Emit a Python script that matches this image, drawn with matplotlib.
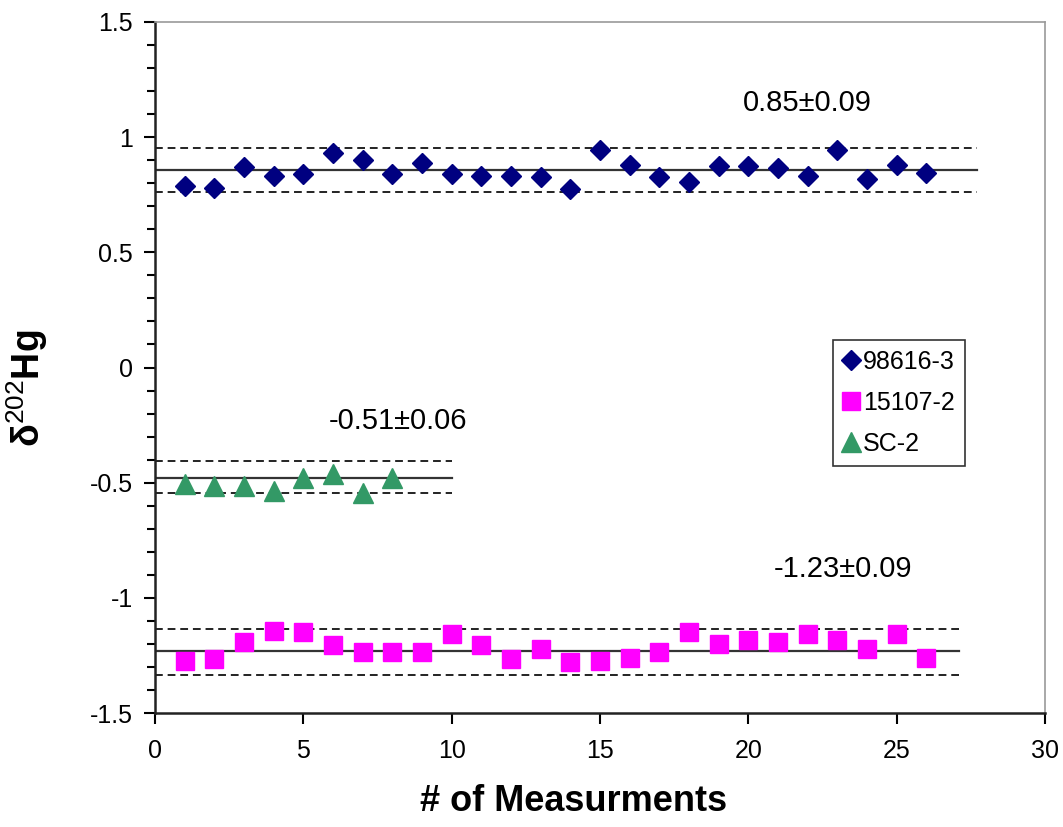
import matplotlib.pyplot as plt
from matplotlib.ticker import MultipleLocator

plt.rcParams['font.family'] = ['Liberation Sans', 'DejaVu Sans']
plt.rcParams['mathtext.fontset'] = 'custom'
plt.rcParams['mathtext.rm'] = 'Liberation Sans'
plt.rcParams['mathtext.bf'] = 'Liberation Sans:bold'

x_98616 = list(range(1, 27))
y_98616 = [0.79, 0.78, 0.87, 0.83, 0.84, 0.93, 0.90, 0.84, 0.89, 0.84,
           0.83, 0.83, 0.825, 0.775, 0.945, 0.88, 0.825, 0.805, 0.875, 0.875,
           0.865, 0.83, 0.945, 0.82, 0.88, 0.845]

x_15107 = list(range(1, 27))
y_15107 = [-1.275, -1.265, -1.19, -1.145, -1.15, -1.205, -1.235, -1.235, -1.235, -1.155,
           -1.205, -1.265, -1.22, -1.28, -1.275, -1.26, -1.235, -1.15, -1.2, -1.185,
           -1.19, -1.155, -1.185, -1.22, -1.155, -1.26]

x_sc2 = list(range(1, 9))
y_sc2 = [-0.505, -0.513, -0.513, -0.535, -0.478, -0.464, -0.546, -0.478]

# mean and +/- band levels (center, upper, lower) and how far they run
band_98616 = [0.858, 0.955, 0.763]
band_15107 = [-1.231, -1.133, -1.335]
band_sc2 = [-0.478, -0.407, -0.543]
xend_98616 = 27.7
xend_15107 = 27.1
xend_sc2 = 10.0

labels = ['98616-3', '15107-2', 'SC-2']
notes = ['0.85\u00b10.09', '-0.51\u00b10.06', '-1.23\u00b10.09']

fig = plt.figure(figsize=(10.63, 8.27), dpi=100)
ax = fig.add_axes([0.1458, 0.1378, 0.8372, 0.8356])

# band lines
for band, xend in [(band_98616, xend_98616), (band_sc2, xend_sc2), (band_15107, xend_15107)]:
    ax.plot([0, xend], [band[0], band[0]], color='#333333', lw=1.6, zorder=2)
    for lev in band[1:]:
        ax.plot([0, xend], [lev, lev], color='#222222', lw=1.4, ls=(0, (4, 2.5)), zorder=2)

ax.plot(x_98616, y_98616, ls='none', marker='D', ms=10, color='#000080',
        mec='#000080', label=labels[0], zorder=3)
ax.plot(x_15107, y_15107, ls='none', marker='s', ms=13, color='#FF00FF',
        mec='#FF00FF', label=labels[1], zorder=3)
ax.plot(x_sc2, y_sc2, ls='none', marker='^', ms=14, color='#339966',
        mec='#339966', label=labels[2], zorder=3)

ax.text(22.0, 1.148, notes[0], fontsize=21, ha='center', va='center')
ax.text(8.2, -0.232, notes[1], fontsize=21, ha='center', va='center')
ax.text(23.2, -0.875, notes[2], fontsize=21, ha='center', va='center')

ax.set_xlim(0, 30)
ax.set_ylim(-1.5, 1.5)
ax.xaxis.set_major_locator(MultipleLocator(5))
ax.yaxis.set_minor_locator(MultipleLocator(0.1))
ax.set_yticks([-1.5, -1, -0.5, 0, 0.5, 1, 1.5])
ax.set_yticklabels(['-1.5', '-1', '-0.5', '0', '0.5', '1', '1.5'])
ax.tick_params(axis='both', which='major', direction='out', length=8, width=1.5,
               labelsize=18, pad=8)
ax.tick_params(axis='y', which='minor', direction='out', length=6, width=1.5)
ax.tick_params(axis='x', pad=11)

for side in ['left', 'bottom']:
    ax.spines[side].set_color('#222222')
    ax.spines[side].set_linewidth(1.8)
for side in ['top', 'right']:
    ax.spines[side].set_color('#999999')
    ax.spines[side].set_linewidth(1.2)

ax.set_xlabel('# of Measurments', fontsize=26, fontweight='bold')
ax.xaxis.set_label_coords(0.47, -0.102)
ax.set_ylabel('$\\mathbf{\u03b4}^{\\mathrm{202}}\\mathbf{Hg}$', fontsize=27)
ax.yaxis.set_label_coords(-0.118, 0.47)

leg = ax.legend(loc='upper left', bbox_to_anchor=(0.762, 0.54), fontsize=18,
                frameon=True, fancybox=False, handlelength=0.6, handletextpad=0.2,
                borderpad=0.4, labelspacing=0.68, borderaxespad=0)
leg.get_frame().set_edgecolor('black')
leg.get_frame().set_linewidth(1.2)

fig.savefig('out.png', dpi=100)
